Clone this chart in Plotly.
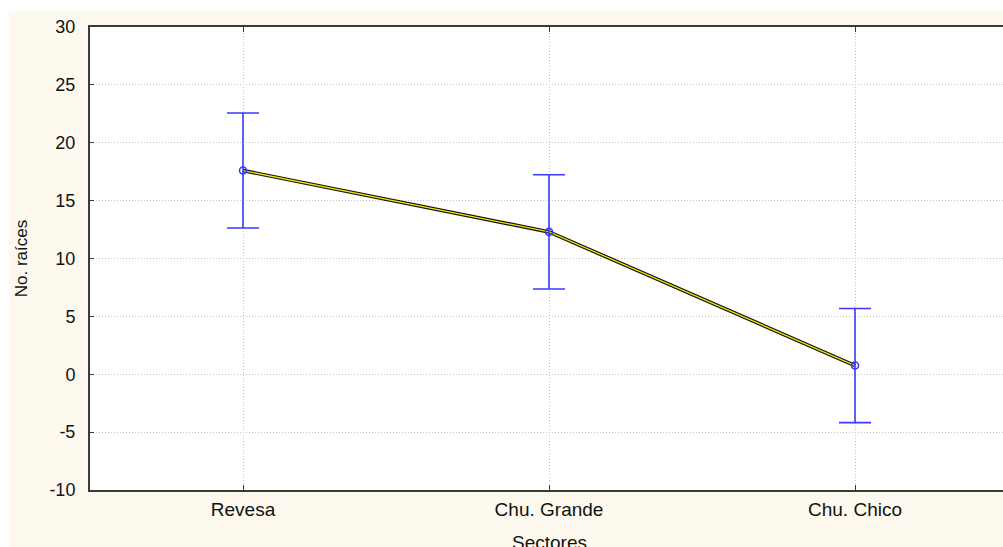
import plotly.graph_objects as go

categories = ["Revesa", "Chu. Grande", "Chu. Chico"]
means = [17.6, 12.3, 0.75]
errors = [4.97, 4.93, 4.93]
y_ticks = [-10, -5, 0, 5, 10, 15, 20, 25, 30]
y_tick_labels = ["-10", "-5", "0", "5", "10", "15", "20", "25", "30"]
x_title = "Sectores"
y_title = "No. raíces"

W, H = 1003, 547
L, R, T, B = 90, 0, 27, 57
pw, ph = W - L - R, H - T - B

def px_x(p):
    return (p - L) / pw

def px_y(p):
    return (H - B - p) / ph

xs = list(range(len(categories)))
font = "Liberation Sans, Arial, sans-serif"

fig = go.Figure()
fig.add_trace(go.Scatter(x=xs, y=means, mode="lines",
                         line=dict(color="#111111", width=3.6),
                         hoverinfo="skip", showlegend=False))
fig.add_trace(go.Scatter(x=xs, y=means, mode="lines",
                         line=dict(color="#f2e600", width=1.3),
                         hoverinfo="skip", showlegend=False))
fig.add_trace(go.Scatter(x=xs, y=means, mode="markers",
                         marker=dict(symbol="circle-open", size=7,
                                     color="#3b3bff", line=dict(width=1.6)),
                         error_y=dict(type="data", array=errors, visible=True,
                                      color="#3b3bff", thickness=1.6, width=16),
                         showlegend=False))

fig.update_layout(
    width=W, height=H,
    margin=dict(l=L, r=R, t=T, b=B, pad=0),
    paper_bgcolor="#FEF9EE",
    plot_bgcolor="#FFFFFF",
    font=dict(family=font, size=19, color="#111111"),
    xaxis=dict(
        range=[-0.5, -0.5 + pw / 306.0],
        tickmode="array", tickvals=xs, ticktext=categories,
        showgrid=True, gridcolor="#c4c4c4", griddash="1px,2px", gridwidth=1,
        showline=True, linecolor="#3a3a3a", linewidth=2, mirror="allticks",
        ticks="inside", ticklen=5, tickcolor="#3a3a3a",
        ticklabelstandoff=1,
        zeroline=False, automargin=False,
        tickfont=dict(size=19),
    ),
    yaxis=dict(
        range=[-10, 30],
        tickmode="array", tickvals=y_ticks, ticktext=y_tick_labels,
        showgrid=True, gridcolor="#c4c4c4", griddash="1px,2px", gridwidth=1,
        showline=True, linecolor="#3a3a3a", linewidth=2,
        ticks="inside", ticklen=4, tickcolor="#3a3a3a",
        ticklabelstandoff=9,
        zeroline=False, automargin=False,
        title=dict(text=y_title, standoff=17, font=dict(size=17)),
        tickfont=dict(size=18),
    ),
    annotations=[
        dict(text=x_title, xref="x", yref="paper", x=1, y=px_y(542),
             xanchor="center", yanchor="middle", showarrow=False,
             font=dict(size=19, color="#111111")),
    ],
    shapes=[
        dict(type="rect", xref="paper", yref="paper",
             x0=px_x(-5), x1=px_x(W + 5), y0=px_y(11), y1=px_y(-5),
             fillcolor="#FFFFFF", line=dict(width=0), layer="below"),
        dict(type="rect", xref="paper", yref="paper",
             x0=px_x(-5), x1=px_x(9), y0=px_y(H + 5), y1=px_y(-5),
             fillcolor="#FFFFFF", line=dict(width=0), layer="below"),
    ],
)

fig.write_html("out.html",
               config={"displayModeBar": False},
               post_script="document.body.style.margin='0px';document.body.style.overflow='hidden';document.body.style.background='#FEF9EE';")
